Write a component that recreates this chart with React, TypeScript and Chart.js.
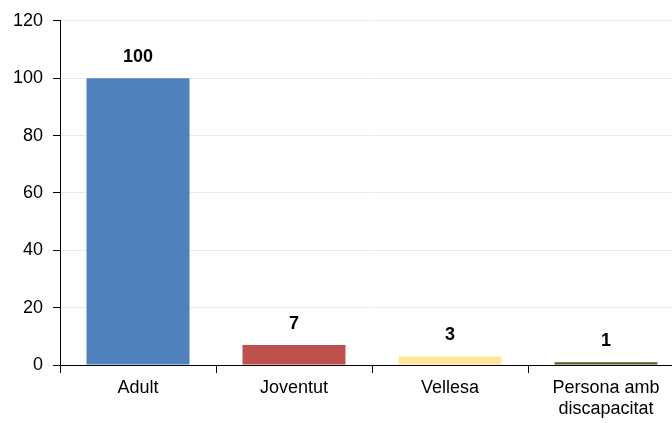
import React, { useEffect, useRef } from "react";
import { Chart, registerables } from "chart.js";

Chart.register(...registerables);

const categories: (string | string[])[] = ["Adult", "Joventut", "Vellesa", ["Persona amb", "discapacitat"]];
const values: number[] = [100, 7, 3, 1];
const barColors: string[] = ["#4F81BD", "#C0504D", "#FFE699", "#4F6228"];
const yMin = 0;
const yMax = 120;
const yStep = 20;

const FONT = "'Liberation Sans', Arial, sans-serif";

const valueLabels = {
  id: "valueLabels",
  afterDatasetsDraw(chart: any) {
    const ctx = chart.ctx;
    const meta = chart.getDatasetMeta(0);
    ctx.save();
    ctx.font = `bold 18px ${FONT}`;
    ctx.fillStyle = "#000";
    ctx.textAlign = "center";
    ctx.textBaseline = "middle";
    meta.data.forEach((bar: any, i: number) => {
      ctx.fillText(String(values[i]), bar.x, bar.y - 21);
    });
    ctx.restore();
  },
};

export default function App() {
  const ref = useRef<HTMLCanvasElement | null>(null);
  useEffect(() => {
    if (!ref.current) return;
    const chart = new Chart(ref.current, {
      type: "bar",
      data: {
        labels: categories as any,
        datasets: [
          {
            data: values,
            backgroundColor: barColors,
            borderWidth: 0,
            barPercentage: 0.66,
            categoryPercentage: 1,
          },
        ],
      },
      options: {
        responsive: false,
        animation: false,
        devicePixelRatio: 1,
        layout: { padding: { top: 19, right: 0, bottom: 0, left: 0 } },
        plugins: { legend: { display: false }, tooltip: { enabled: false } },
        scales: {
          x: {
            offset: true,
            grid: {
              offset: true,
              drawOnChartArea: false,
              drawTicks: true,
              tickLength: 8,
              tickColor: "#000",
            },
            border: { color: "#000", width: 1 },
            ticks: {
              color: "#000",
              font: { family: FONT, size: 18, lineHeight: 1.2 },
              padding: 4,
              maxRotation: 0,
              autoSkip: false,
            },
            afterFit(scale: any) {
              scale.height = 58;
            },
          },
          y: {
            min: yMin,
            max: yMax,
            grid: {
              color: "#ececec",
              tickColor: "#000",
              tickLength: 7,
              drawTicks: true,
            },
            border: { color: "#000", width: 1 },
            ticks: {
              stepSize: yStep,
              color: "#000",
              font: { family: FONT, size: 18 },
              padding: 10,
            },
            afterFit(scale: any) {
              scale.width = 60;
            },
          },
        },
      },
      plugins: [valueLabels],
    });
    return () => chart.destroy();
  }, []);
  return (
    <div
      style={{
        position: "fixed",
        left: 0,
        top: 0,
        width: 672,
        height: 423,
        overflow: "hidden",
        background: "#fff",
      }}
    >
      <canvas ref={ref} width={684} height={423} style={{ width: 684, height: 423, display: "block" }} />
    </div>
  );
}
